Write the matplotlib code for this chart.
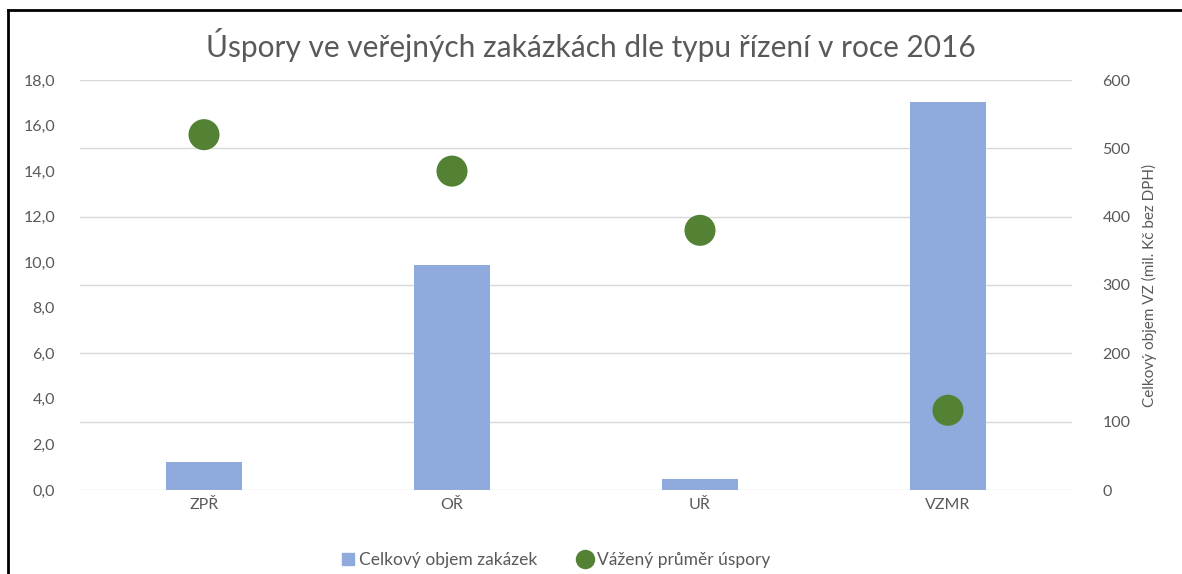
import matplotlib.pyplot as plt
import matplotlib.lines as mlines
import matplotlib.patches as mpatches
import numpy as np

plt.rcParams['font.family'] = ['Lato', 'DejaVu Sans']

# data
kategorie = ['ZPŘ', 'OŘ', 'UŘ', 'VZMR']
objem = [41, 329, 16, 568]          # mil. Kč bez DPH (right axis)
uspora = [15.6, 14.0, 11.4, 3.5]    # vážený průměr úspory (left axis)

bar_color = '#8FAADC'
dot_color = '#548235'
txt = '#595959'

fig = plt.figure(figsize=(11.82, 5.74), dpi=100)
ax = fig.add_axes([80/1182, 1-490/574, 992/1182, 410/574])
ax2 = ax.twinx()
x = np.arange(len(kategorie))

# bars on the right-hand scale
ax.bar(x, objem, width=0.31, color=bar_color, zorder=2)
ax.set_ylim(0, 600)
ax.set_yticks(np.arange(0, 601, 100))
ax.grid(axis='y', color='#D9D9D9', linewidth=1)
ax.set_axisbelow(True)
ax.set_xlim(-0.5, 3.5)
ax.set_xticks(x)
ax.set_xticklabels(kategorie)

# dots on the left-hand scale
ax2.scatter(x, uspora, s=500, color=dot_color, zorder=3, edgecolors='none')
ax2.set_ylim(0, 18)
ax2.set_yticks(np.arange(0, 19, 2))
ax2.set_yticklabels([('%.1f' % v).replace('.', ',') for v in np.arange(0, 19, 2)])

ax.yaxis.tick_right()
ax.yaxis.set_label_position('right')
ax2.yaxis.tick_left()
ax.set_ylabel('Celkový objem VZ (mil. Kč bez DPH)', color=txt, fontsize=11, labelpad=8)

for a in (ax, ax2):
    for s in a.spines.values():
        s.set_visible(False)
    a.tick_params(length=0, colors=txt, labelsize=11.5)
ax.tick_params(axis='y', pad=22)
ax2.tick_params(axis='y', pad=18)
ax.tick_params(axis='x', pad=6)

fig.text(0.5, 1-45/574, 'Úspory ve veřejných zakázkách dle typu řízení v roce 2016',
         ha='center', va='center', fontsize=21.5, color=txt)

h1 = mpatches.Patch(color=bar_color, label='Celkový objem zakázek')
h2 = mlines.Line2D([], [], marker='o', linestyle='none', markersize=13,
                   color=dot_color, label='Vážený průměr úspory')
fig.legend(handles=[h1, h2], loc='center', bbox_to_anchor=(556/1182, 1-560/574),
           ncol=2, frameon=False, fontsize=12.5, handlelength=0.7,
           handletextpad=0.3, columnspacing=2.4, labelcolor=txt)

# frame lines (left and top) of the original screenshot
fig.add_artist(mlines.Line2D([8/1182, 8/1182], [0, 1-10/574], color='black', linewidth=2))
fig.add_artist(mlines.Line2D([8/1182, 1], [1-10/574, 1-10/574], color='black', linewidth=2))

fig.savefig('out.png', dpi=100)
